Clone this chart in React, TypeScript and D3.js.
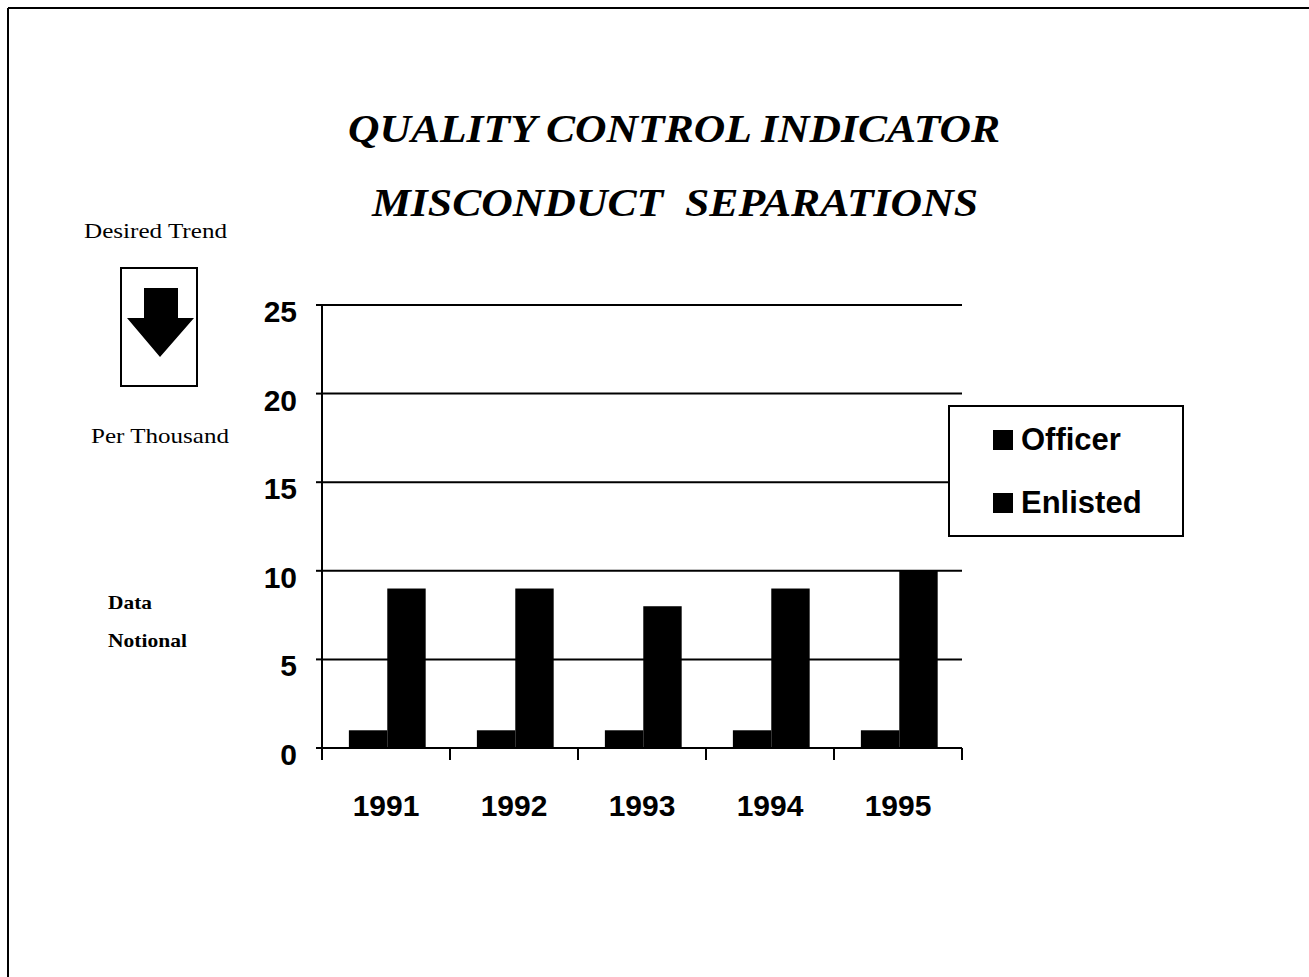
import React from "react";
import * as d3 from "d3";

const years = ["1991", "1992", "1993", "1994", "1995"];
const seriesNames = ["Officer", "Enlisted"];
const officer = [1, 1, 1, 1, 1];
const enlisted = [9, 9, 8, 9, 10];
const yTicks = [0, 5, 10, 15, 20, 25];

const W = 1309;
const H = 977;
const plot = { left: 322, right: 962, top: 305, bottom: 748 };
const serif = "'Liberation Serif', 'Times New Roman', serif";
const sans = "'Liberation Sans', Arial, sans-serif";

const App = () => {
  const x0 = d3.scaleBand<string>().domain(years).range([plot.left, plot.right]).padding(0);
  const bw = x0.bandwidth();
  const x1 = d3.scaleBand<string>().domain(seriesNames).range([bw * 0.21, bw * 0.81]).padding(0);
  const y = d3.scaleLinear().domain([0, 25]).range([plot.bottom, plot.top]);

  const rows = years.map((yr, i) => ({ year: yr, values: [officer[i], enlisted[i]] }));

  return (
    <svg width={W} height={H} style={{ position: "absolute", left: 0, top: 0, background: "#fff" }}>
      {/* page frame */}
      <line x1={8} y1={8} x2={W} y2={8} stroke="#000" strokeWidth={2} />
      <line x1={8} y1={8} x2={8} y2={H} stroke="#000" strokeWidth={2} />

      {/* titles */}
      <text x={348} y={142} textLength={652} lengthAdjust="spacingAndGlyphs" fontFamily={serif} fontStyle="italic" fontWeight="bold" fontSize={41}>
        QUALITY CONTROL INDICATOR
      </text>
      <text x={372} y={216} textLength={606} lengthAdjust="spacingAndGlyphs" fontFamily={serif} fontStyle="italic" fontWeight="bold" fontSize={41} style={{ whiteSpace: "pre" }}>
        MISCONDUCT  SEPARATIONS
      </text>

      {/* desired trend */}
      <text x={84} y={238} textLength={143} lengthAdjust="spacingAndGlyphs" fontFamily={serif} fontSize={22}>Desired Trend</text>
      <rect x={121} y={268} width={76} height={118} fill="#fff" stroke="#000" strokeWidth={2} />
      <path d="M144,288 L178,288 L178,318 L194,318 L160,357 L127,318 L144,318 Z" fill="#000" />
      <text x={91} y={443} textLength={138} lengthAdjust="spacingAndGlyphs" fontFamily={serif} fontSize={22}>Per Thousand</text>

      <text x={108} y={609} textLength={44} lengthAdjust="spacingAndGlyphs" fontFamily={serif} fontWeight="bold" fontSize={19}>Data</text>
      <text x={108} y={647} textLength={79} lengthAdjust="spacingAndGlyphs" fontFamily={serif} fontWeight="bold" fontSize={19}>Notional</text>

      {/* gridlines */}
      {yTicks.filter((t) => t > 0).map((t) => (
        <line key={t} x1={plot.left} x2={plot.right} y1={y(t)} y2={y(t)} stroke="#000" strokeWidth={2} />
      ))}

      {/* bars */}
      {rows.map((r) => (
        <g key={r.year} transform={`translate(${x0(r.year)},0)`}>
          {r.values.map((v, j) => (
            <rect key={j} x={x1(seriesNames[j])} y={y(v)} width={x1.bandwidth()} height={y(0) - y(v)} fill="#000" />
          ))}
        </g>
      ))}

      {/* axes */}
      <line x1={plot.left} x2={plot.left} y1={plot.top} y2={plot.bottom + 10} stroke="#000" strokeWidth={2} />
      <line x1={plot.left} x2={plot.right} y1={plot.bottom} y2={plot.bottom} stroke="#000" strokeWidth={2} />
      {yTicks.map((t) => (
        <g key={t}>
          <line x1={plot.left - 6} x2={plot.left} y1={y(t)} y2={y(t)} stroke="#000" strokeWidth={2} />
          <text x={297} y={y(t) + 17} textAnchor="end" fontFamily={sans} fontWeight="bold" fontSize={30}>{t}</text>
        </g>
      ))}
      {years.map((yr) => (
        <text key={yr} x={(x0(yr) ?? 0) + bw / 2} y={816} textAnchor="middle" fontFamily={sans} fontWeight="bold" fontSize={30}>{yr}</text>
      ))}
      {[...years.map((yr) => x0(yr) ?? 0), plot.right].map((xv, i) => (
        <line key={i} x1={xv} x2={xv} y1={plot.bottom} y2={plot.bottom + 12} stroke="#000" strokeWidth={2} />
      ))}

      {/* legend */}
      <rect x={949} y={406} width={234} height={130} fill="#fff" stroke="#000" strokeWidth={2} />
      {seriesNames.map((s, i) => (
        <g key={s} transform={`translate(993, ${430 + i * 63})`}>
          <rect x={0} y={0} width={20} height={20} fill="#000" />
          <text x={28} y={20} fontFamily={sans} fontWeight="bold" fontSize={31}>{s}</text>
        </g>
      ))}
    </svg>
  );
};

export default App;
